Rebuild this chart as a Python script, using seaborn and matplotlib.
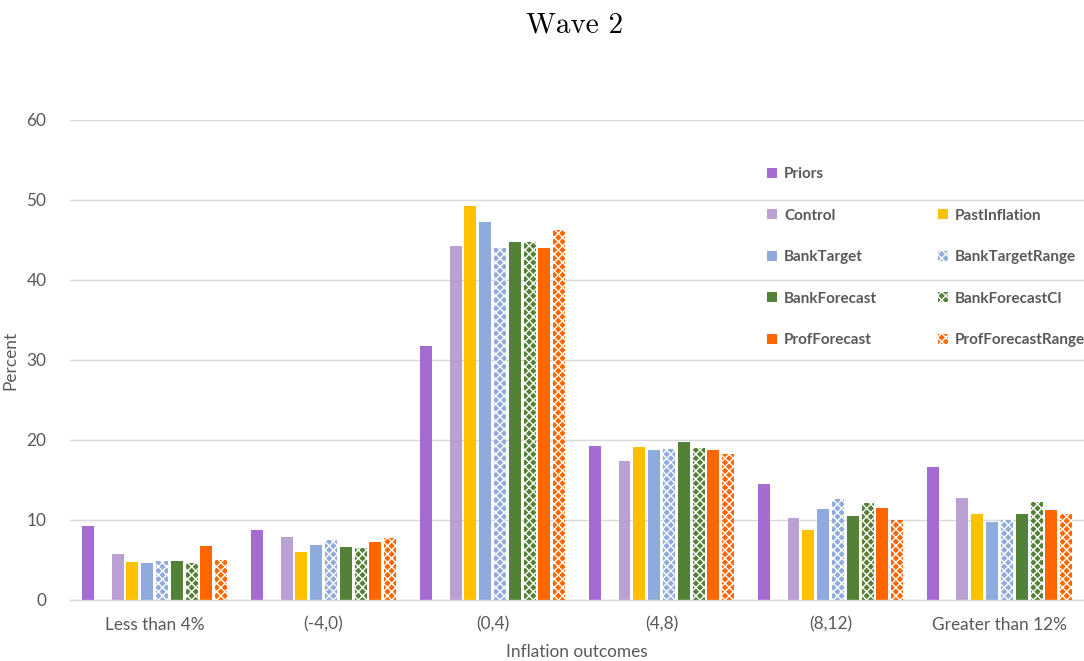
import numpy as np
import pandas as pd
import matplotlib
matplotlib.use("Agg")
import matplotlib.pyplot as plt
import matplotlib.patches as mpatches
import seaborn as sns

categories = ["Less than 4%", "(-4,0)", "(0,4)", "(4,8)", "(8,12)", "Greater than 12%"]
series_names = ["Priors", "Control", "PastInflation", "BankTarget", "BankTargetRange",
                "BankForecast", "BankForecastCI", "ProfForecast", "ProfForecastRange"]

priors            = [9.2, 8.8, 31.8, 19.2, 14.5, 16.6]
control           = [5.7, 7.9, 44.3, 17.4, 10.2, 12.7]
past_inflation    = [4.7, 6.0, 49.2, 19.1, 8.7, 10.8]
bank_target       = [4.6, 6.9, 47.3, 18.8, 11.4, 9.7]
bank_target_range = [4.9, 7.5, 44.0, 18.9, 12.6, 10.0]
bank_forecast     = [4.9, 6.6, 44.7, 19.7, 10.5, 10.7]
bank_forecast_ci  = [4.6, 6.5, 44.8, 19.0, 12.1, 12.3]
prof_forecast     = [6.7, 7.2, 44.0, 18.7, 11.5, 11.2]
prof_forecast_range = [5.0, 7.7, 46.3, 18.2, 10.0, 10.8]

values = [priors, control, past_inflation, bank_target, bank_target_range,
          bank_forecast, bank_forecast_ci, prof_forecast, prof_forecast_range]

colors = {
    "Priors": "#A66BD2",
    " ": "#FFFFFF",
    "Control": "#BBA0D4",
    "PastInflation": "#FFC000",
    "BankTarget": "#8FAADC",
    "BankTargetRange": "#8FAADC",
    "BankForecast": "#538135",
    "BankForecastCI": "#538135",
    "ProfForecast": "#FF6600",
    "ProfForecastRange": "#FF6600",
}
hatches = {"BankTargetRange": "xxxx", "BankForecastCI": "xxxx", "ProfForecastRange": "xxxx"}

rows = []
for name, vals in zip(series_names, values):
    for c, v in zip(categories, vals):
        rows.append({"cat": c, "series": name, "val": v})
df = pd.DataFrame(rows)

hue_order = ["Priors", " "] + series_names[1:]

sns.set_theme(style="white")
plt.rcParams["font.family"] = ["Lato", "DejaVu Sans"]
plt.rcParams["hatch.linewidth"] = 1.0

fig = plt.figure(figsize=(10.84, 6.61), dpi=100)
ax = fig.add_axes([0.0646, 0.0923, 0.9354, 0.7262])

sns.barplot(data=df, x="cat", y="val", hue="series", hue_order=hue_order,
            order=categories, palette=colors, width=0.876, gap=0.19,
            errorbar=None, ax=ax, legend=False, saturation=1)

# apply hatches & edges
names_for_containers = hue_order if len(ax.containers) == len(hue_order) else series_names
for name, cont in zip(names_for_containers, ax.containers):
    for p in cont.patches:
        if name in hatches:
            p.set_hatch(hatches[name])
            p.set_edgecolor("white")
            p.set_linewidth(0.0)
        else:
            p.set_edgecolor("none")

ax.set_ylim(0, 60)
ax.set_xlim(-0.5, 5.5)
ax.set_yticks(range(0, 61, 10))
ax.yaxis.grid(True, color="#D9D9D9", linewidth=1.0)
ax.set_axisbelow(True)
for s in ["top", "right", "left"]:
    ax.spines[s].set_visible(False)
ax.spines["bottom"].set_color("#D9D9D9")
ax.spines["bottom"].set_linewidth(1.0)
ax.tick_params(axis="both", length=0, colors="#595959", labelsize=12.4)
ax.tick_params(axis="y", pad=17)
ax.tick_params(axis="x", pad=12)
ax.set_xlabel("Inflation outcomes", color="#595959", fontsize=12.4, labelpad=8)
ax.set_ylabel("Percent", color="#595959", fontsize=12.4, labelpad=6)

fig.text(0.53, 0.962, "Wave 2", ha="center", va="center", fontsize=21,
         family="cmr10", color="black")

# legend (column-first fill)
def handle(name):
    if name == " ":
        return mpatches.Patch(facecolor="none", edgecolor="none", label=" ")
    return mpatches.Patch(facecolor=colors[name], edgecolor="white" if name in hatches else "none",
                          hatch=hatches.get(name), linewidth=0, label=name)

col1 = ["Priors", "Control", "BankTarget", "BankForecast", "ProfForecast"]
col2 = [" ", "PastInflation", "BankTargetRange", "BankForecastCI", "ProfForecastRange"]
hs = [handle(n) for n in col1 + col2]
leg = fig.legend(handles=hs, ncol=2, loc="upper left", bbox_to_anchor=(0.695, 0.768),
                 frameon=False, handlelength=0.65, handleheight=0.65, handletextpad=0.45,
                 columnspacing=4.0, labelspacing=1.8,
                 prop={"family": ["Lato", "DejaVu Sans"], "weight": "bold", "size": 11})
for t in leg.get_texts():
    t.set_color("#595959")

fig.savefig("out.png", dpi=100)
